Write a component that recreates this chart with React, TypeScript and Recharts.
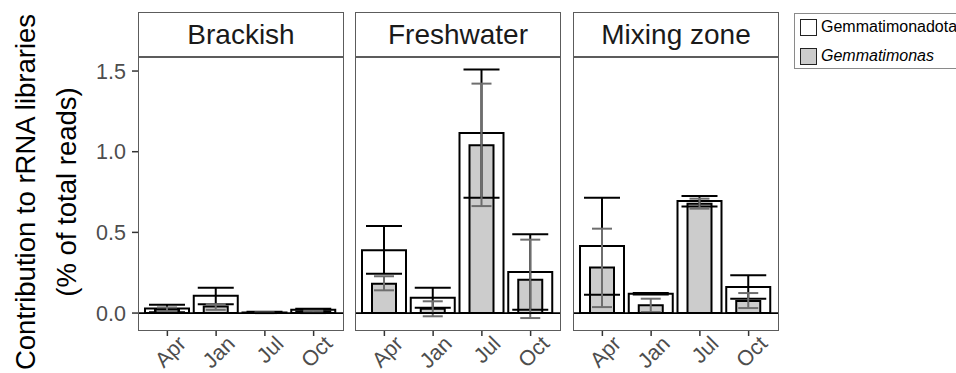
import { BarChart, Bar, XAxis, YAxis, ErrorBar, ReferenceLine } from 'recharts';

const months = ['Apr', 'Jan', 'Jul', 'Oct'];
const yTicks = [0, 0.5, 1.0, 1.5];
const habitats = ['Brackish', 'Freshwater', 'Mixing zone'];

// Gemmatimonadota: mean and error bar ends (% of total reads)
const brackishPhylum = [0.028, 0.107, 0.004, 0.02];
const brackishPhylumLow = [0.005, 0.054, 0.0, 0.01];
const brackishPhylumHigh = [0.052, 0.157, 0.008, 0.027];
const freshPhylum = [0.389, 0.095, 1.116, 0.254];
const freshPhylumLow = [0.244, 0.033, 0.715, 0.021];
const freshPhylumHigh = [0.539, 0.157, 1.509, 0.488];
const mixingPhylum = [0.415, 0.12, 0.694, 0.161];
const mixingPhylumLow = [0.114, 0.115, 0.661, 0.089];
const mixingPhylumHigh = [0.715, 0.125, 0.725, 0.234];

// Gemmatimonas
const brackishGenus = [0.02, 0.04, 0.002, 0.008];
const brackishGenusLow = [0.012, 0.02, 0.0, 0.004];
const brackishGenusHigh = [0.035, 0.055, 0.004, 0.014];
const freshGenus = [0.182, 0.027, 1.04, 0.207];
const freshGenusLow = [0.141, -0.02, 0.663, -0.031];
const freshGenusHigh = [0.228, 0.073, 1.422, 0.455];
const mixingGenus = [0.282, 0.048, 0.678, 0.074];
const mixingGenusLow = [0.037, 0.006, 0.647, 0.031];
const mixingGenusHigh = [0.523, 0.089, 0.709, 0.124];

const FONT = '"Liberation Sans", Arial, sans-serif';
const BORDER = '#5c5c5c';
const GREY = '#cccccc';

function buildRows(
  phylum: number[], phylumLow: number[], phylumHigh: number[],
  genus: number[], genusLow: number[], genusHigh: number[],
) {
  return months.map((month, i) => ({
    month,
    phylum: phylum[i],
    phylumErr: [phylum[i] - phylumLow[i], phylumHigh[i] - phylum[i]],
    genus: genus[i],
    genusErr: [genus[i] - genusLow[i], genusHigh[i] - genus[i]],
  }));
}

const panelData = [
  buildRows(brackishPhylum, brackishPhylumLow, brackishPhylumHigh, brackishGenus, brackishGenusLow, brackishGenusHigh),
  buildRows(freshPhylum, freshPhylumLow, freshPhylumHigh, freshGenus, freshGenusLow, freshGenusHigh),
  buildRows(mixingPhylum, mixingPhylumLow, mixingPhylumHigh, mixingGenus, mixingGenusLow, mixingGenusHigh),
];

const panelLefts = [138, 355, 573];
const PANEL_W = 205;
const PANEL_TOP = 57;
const PANEL_BOTTOM = 330;
const Y_AXIS_W = 138;

// rotated month label, right end sits a bit right of the tick
const renderMonthTick = (props: any) => {
  const { x, y, payload } = props;
  return (
    <g transform={`translate(${x + 20},${y + 7})`}>
      <text
        x={0}
        y={0}
        textAnchor="end"
        transform="rotate(-45)"
        fontSize={21.5}
        fill="#4d4d4d"
        fontFamily={FONT}
      >
        {payload.value}
      </text>
    </g>
  );
};

function Panel({ index }: { index: number }) {
  const withAxis = index === 0;
  const left = withAxis ? 0 : panelLefts[index];
  const width = (withAxis ? Y_AXIS_W : 0) + PANEL_W + 12;
  const pad = { left: 5, right: 5 };
  return (
    <div style={{ position: 'absolute', left, top: 0 }}>
      <BarChart
        width={width}
        height={373}
        data={panelData[index]}
        margin={{ top: PANEL_TOP, right: 12, bottom: 0, left: 0 }}
      >
        <XAxis
          xAxisId="a"
          dataKey="month"
          padding={pad}
          height={373 - PANEL_BOTTOM}
          axisLine={false}
          tickSize={6}
          tickLine={{ stroke: '#333', strokeWidth: 1.5 }}
          tick={renderMonthTick}
          interval={0}
        />
        <XAxis xAxisId="b" dataKey="month" padding={pad} hide />
        <XAxis xAxisId="c" dataKey="month" padding={pad} hide />
        <XAxis xAxisId="d" dataKey="month" padding={pad} hide />
        <YAxis
          domain={[-0.105, 1.587]}
          ticks={yTicks}
          allowDataOverflow
          hide={!withAxis}
          width={Y_AXIS_W}
          axisLine={false}
          tickSize={6}
          tickMargin={6}
          tickLine={{ stroke: '#333', strokeWidth: 1.5 }}
          tickFormatter={(v: number) => v.toFixed(1)}
          tick={{ fontSize: 21.5, fill: '#4d4d4d', fontFamily: FONT }}
        />
        <Bar xAxisId="a" dataKey="phylum" barSize={44} fill="#ffffff" stroke="#000" strokeWidth={2} isAnimationActive={false} />
        <Bar xAxisId="b" dataKey="genus" barSize={24} fill={GREY} stroke="#000" strokeWidth={2} isAnimationActive={false} />
        <Bar xAxisId="c" dataKey="phylum" barSize={44} fill="none" stroke="none" isAnimationActive={false}>
          <ErrorBar dataKey="phylumErr" width={18} stroke="#000" strokeWidth={2} isAnimationActive={false} />
        </Bar>
        <Bar xAxisId="d" dataKey="genus" barSize={24} fill="none" stroke="none" isAnimationActive={false}>
          <ErrorBar dataKey="genusErr" width={10} stroke="#6e6e6e" strokeWidth={2} isAnimationActive={false} />
        </Bar>
        <ReferenceLine xAxisId="a" y={0} stroke="#000" strokeWidth={1.8} />
      </BarChart>
    </div>
  );
}

export default function App() {
  return (
    <div
      style={{
        position: 'relative',
        width: 956,
        height: 373,
        overflow: 'hidden',
        background: '#fff',
        fontFamily: FONT,
      }}
    >
      <style>{'body{margin:0}'}</style>
      {habitats.map((h, i) => (
        <Panel key={h} index={i} />
      ))}
      {habitats.map((h, i) => (
        <div key={'strip' + h}>
          <div
            style={{
              position: 'absolute',
              left: panelLefts[i],
              top: 12,
              width: PANEL_W + 1,
              height: PANEL_TOP - 12 + 1,
              boxSizing: 'border-box',
              border: `1px solid ${BORDER}`,
              borderBottomWidth: 2,
              display: 'flex',
              alignItems: 'center',
              justifyContent: 'center',
              fontSize: 28,
              color: '#1a1a1a',
              background: '#fff',
            }}
          >
            {h}
          </div>
          <div
            style={{
              position: 'absolute',
              left: panelLefts[i],
              top: PANEL_TOP,
              width: PANEL_W + 1,
              height: PANEL_BOTTOM - PANEL_TOP + 1,
              boxSizing: 'border-box',
              border: `1px solid ${BORDER}`,
              pointerEvents: 'none',
            }}
          />
        </div>
      ))}
      <svg width={130} height={373} style={{ position: 'absolute', left: 0, top: 0 }}>
        <g transform="rotate(-90)" fontFamily={FONT} fontSize={27.5} fill="#000" textAnchor="middle">
          <text x={-192} y={35}>Contribution to rRNA libraries</text>
          <text x={-192} y={76}>(% of total reads)</text>
        </g>
      </svg>
      <div
        style={{
          position: 'absolute',
          left: 794,
          top: 13,
          width: 170,
          height: 56,
          boxSizing: 'border-box',
          border: '1px solid #8a8a8a',
          fontSize: 16,
          color: '#000',
        }}
      >
        {[
          { label: 'Gemmatimonadota', fill: '#ffffff', italic: false, top: 4 },
          { label: 'Gemmatimonas', fill: GREY, italic: true, top: 33 },
        ].map((item) => (
          <div
            key={item.label}
            style={{ position: 'absolute', left: 5, top: item.top, display: 'flex', alignItems: 'center', height: 18 }}
          >
            <div
              style={{
                width: 17,
                height: 17,
                boxSizing: 'border-box',
                border: '1.5px solid #222',
                background: item.fill,
                marginRight: 4,
              }}
            />
            <span style={{ fontStyle: item.italic ? 'italic' : 'normal' }}>{item.label}</span>
          </div>
        ))}
      </div>
    </div>
  );
}
